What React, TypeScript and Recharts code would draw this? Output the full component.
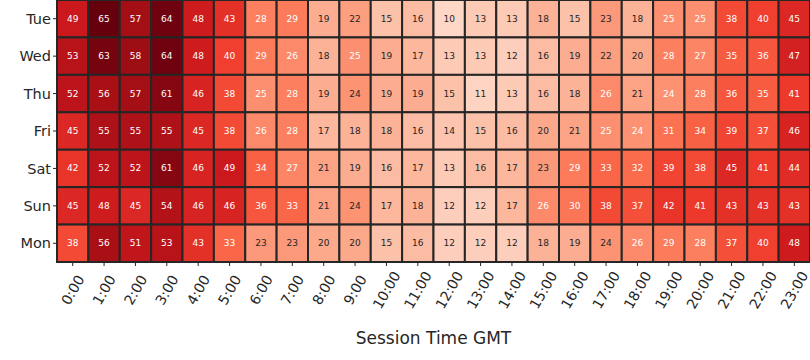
import { ScatterChart, Scatter, XAxis, YAxis, Label } from "recharts";

const days = ["Tue", "Wed", "Thu", "Fri", "Sat", "Sun", "Mon"];
const hours = Array.from({ length: 24 }, (_, i) => `${i}:00`);

// rows = days, columns = hours
const tue = [49, 65, 57, 64, 48, 43, 28, 29, 19, 22, 15, 16, 10, 13, 13, 18, 15, 23, 18, 25, 25, 38, 40, 45];
const wed = [53, 63, 58, 64, 48, 40, 29, 26, 18, 25, 19, 17, 13, 13, 12, 16, 19, 22, 20, 28, 27, 35, 36, 47];
const thu = [52, 56, 57, 61, 46, 38, 25, 28, 19, 24, 19, 19, 15, 11, 13, 16, 18, 26, 21, 24.4, 28, 36, 35, 41];
const fri = [45, 55, 55, 55, 45, 38, 26, 28, 17, 18, 18, 16, 14, 15, 16, 20, 21, 25, 24.4, 31, 34, 39, 37, 46];
const sat = [42, 52, 52, 61, 46, 49, 34, 27, 21, 19, 16, 17, 13, 16, 17, 23, 29, 33, 32, 39, 38, 45, 41, 44];
const sun = [45, 48, 45, 54, 46, 46, 36, 33, 21, 24, 17, 18, 12, 12, 17, 26, 30, 38, 37, 42, 41, 43, 43, 43];
const mon = [38, 56, 51, 53, 43, 33, 23, 23, 20, 20, 15, 16, 12, 12, 12, 18, 19, 24, 26, 29, 28, 37, 40, 48];

const matrix = [tue, wed, thu, fri, sat, sun, mon];

const W = 810;
const H = 360;
const LEFT = 57;
const BOTTOM = 98;
const cellW = (W - LEFT) / hours.length;
const cellH = (H - BOTTOM) / days.length;
const VMIN = 0;
const VMAX = 65;
const FONT = "DejaVu Sans";
const INK = "#262626";

// matplotlib "Reds"
const REDS = ["#fff5f0", "#fee0d2", "#fcbba1", "#fc9272", "#fb6a4a", "#ef3b2c", "#cb181d", "#a50f15", "#67000d"];

function hex(c: string) {
  return [1, 3, 5].map((i) => parseInt(c.slice(i, i + 2), 16));
}

function reds(v: number) {
  const t = Math.min(1, Math.max(0, (v - VMIN) / (VMAX - VMIN)));
  const pos = t * (REDS.length - 1);
  const i = Math.min(REDS.length - 2, Math.floor(pos));
  const f = pos - i;
  const a = hex(REDS[i]);
  const b = hex(REDS[i + 1]);
  const c = a.map((x, k) => Math.round(x + (b[k] - x) * f));
  return `rgb(${c[0]},${c[1]},${c[2]})`;
}

const points = matrix.flatMap((row, r) =>
  row.map((v, c) => ({ x: c + 0.5, y: r + 0.5, v }))
);

function Cell(props: any) {
  const { cx, cy, payload } = props;
  if (cx == null || cy == null) return null;
  const v = payload.v;
  return (
    <g>
      <rect
        x={cx - cellW / 2}
        y={cy - cellH / 2}
        width={cellW}
        height={cellH}
        fill={reds(v)}
        stroke={INK}
        strokeWidth={2}
      />
      <text
        x={cx}
        y={cy}
        textAnchor="middle"
        dominantBaseline="central"
        fontFamily={FONT}
        fontSize={9}
        fill={v > 24.2 ? "#ffffff" : INK}
      >
        {Math.round(v)}
      </text>
    </g>
  );
}

// rotated hour label, centred under its tick like matplotlib
function HourTick(props: any) {
  const { x, y, payload } = props;
  return (
    <text
      transform={`translate(${x},${y + 22}) rotate(-60)`}
      textAnchor="middle"
      dominantBaseline="central"
      fontFamily={FONT}
      fontSize={14}
      fill={INK}
    >
      {hours[Math.floor(payload.value)]}
    </text>
  );
}

export default function App() {
  return (
    <div style={{ width: W, height: H }}>
      <style>{`body{margin:0}`}</style>
      <ScatterChart width={W} height={H} margin={{ top: 0, right: 0, bottom: 0, left: 0 }}>
        <XAxis
          type="number"
          dataKey="x"
          domain={[0, 24]}
          ticks={hours.map((_, i) => i + 0.5)}
          interval={0}
          axisLine={false}
          tickLine={{ stroke: INK }}
          tickSize={4}
          height={BOTTOM}
          tick={<HourTick />}
        >
          <Label
            value="Session Time GMT"
            position="insideBottom"
            offset={16}
            style={{ fill: INK, fontSize: 17, fontFamily: FONT }}
          />
        </XAxis>
        <YAxis
          type="number"
          dataKey="y"
          domain={[0, 7]}
          reversed
          ticks={days.map((_, i) => i + 0.5)}
          interval={0}
          tickFormatter={(t: number) => days[Math.floor(t)]}
          axisLine={false}
          tickLine={{ stroke: INK }}
          tickSize={4}
          width={LEFT}
          tick={{ fill: INK, fontSize: 14.5, fontFamily: FONT }}
        />
        <Scatter data={points} shape={<Cell />} isAnimationActive={false} />
      </ScatterChart>
    </div>
  );
}
